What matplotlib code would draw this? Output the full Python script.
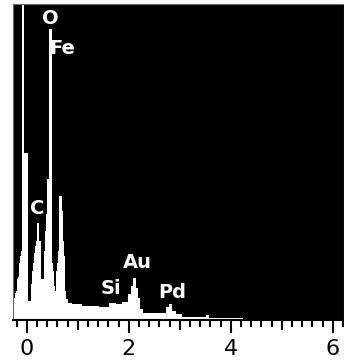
import numpy as np
import matplotlib
matplotlib.use('Agg')
import matplotlib.pyplot as plt
from matplotlib.ticker import MultipleLocator

# EDS spectrum: bin edges (keV) and counts (arbitrary units)
edges = [-0.265, -0.245, -0.225, -0.206, -0.186, -0.167, -0.147, -0.127, -0.108,
         -0.088, -0.049, 0.029, 0.088, 0.108, 0.127, 0.147, 0.167, 0.186, 0.206,
         0.245, 0.284, 0.343, 0.363, 0.382, 0.402, 0.441, 0.500, 0.520, 0.539,
         0.559, 0.578, 0.598, 0.618, 0.637, 0.696, 0.716, 0.735, 0.755, 0.775,
         0.814, 0.892, 1.088, 1.422, 1.618, 1.755, 1.873, 1.990, 2.049, 2.088,
         2.147, 2.186, 2.225, 2.284, 2.735, 2.794, 2.853, 2.931, 3.049, 3.520,
         3.578, 4.245]
counts = [14, 22, 27, 29, 41, 43, 57, 64, 69,
          400, 167, 19, 36, 49, 57, 67, 74, 79, 97,
          79, 41, 69, 89, 106, 141, 291, 57, 49, 34,
          29, 49, 57, 69, 124, 109, 79, 64, 29, 21,
          17, 16, 14, 13, 17, 16, 18, 26, 34, 42,
          32, 22, 11, 7, 13, 16, 9, 6, 3, 5,
          2]

peak_names = ['O', 'Fe', 'C', 'Si', 'Au', 'Pd']
peak_x = [0.47, 0.69, 0.21, 1.66, 2.17, 2.85]
peak_y = [301, 272, 111, 31, 58, 28]

fig = plt.figure(figsize=(3.44, 3.64), dpi=100)
ax = fig.add_axes([13 / 344, 1 - 320 / 364, 1 - 13 / 344, 316 / 364])
ax.set_facecolor('black')
ax.stairs(counts, edges, fill=True, color='white', baseline=0)
ax.set_xlim(-0.27, 6.22)
ax.set_ylim(0, 316)

for name, x, y in zip(peak_names, peak_x, peak_y):
    ax.text(x, y, name, color='white', fontsize=14, fontweight='bold',
            ha='center', va='center')

ax.set_yticks([])
ax.xaxis.set_major_locator(MultipleLocator(2))
ax.xaxis.set_minor_locator(MultipleLocator(0.2))
ax.tick_params(axis='x', which='major', direction='out', length=9.5, width=1.5,
               pad=4, labelsize=16,
               labelfontfamily=['Liberation Sans Narrow', 'DejaVu Sans'])
ax.tick_params(axis='x', which='minor', direction='out', length=5, width=1.5)

# medium ticks at odd keV
sec = ax.secondary_xaxis('bottom')
sec.set_xticks([1, 3, 5], labels=[])
sec.tick_params(direction='out', length=7.2, width=1.5)
sec.spines['bottom'].set_visible(False)

for s in ['left', 'top', 'right']:
    ax.spines[s].set_color('#666666')
    ax.spines[s].set_linewidth(0.8)
ax.spines['bottom'].set_linewidth(1.5)

fig.savefig('out.png', dpi=100, facecolor='white')
